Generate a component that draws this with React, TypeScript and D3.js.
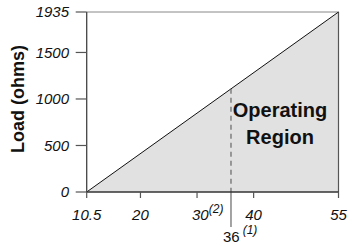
import React from "react";
import * as d3 from "d3";

const xDomain = [10.5, 55];
const yDomain = [0, 1935];
const xTicks = [10.5, 20, 30, 40, 55];
const xTickLabels = ["10.5", "20", "30", "40", "55"];
const yTicks = [0, 500, 1000, 1500, 1935];
const yTickLabels = ["0", "500", "1000", "1500", "1935"];
const boundary = [
  { v: 10.5, load: 0 },
  { v: 55, load: 1935 },
];
const markerV = 36;
const yLabel = "Load (ohms)";
const regionLines = ["Operating", "Region"];

const W = 353;
const H = 246;
const left = 86.7;
const right = 338.5;
const top = 12;
const bottom = 192;
const font = "'Liberation Sans', Arial, Helvetica, sans-serif";

export default function App() {
  const x = d3.scaleLinear().domain(xDomain).range([left, right]);
  const y = d3.scaleLinear().domain(yDomain).range([bottom, top]);

  const area = d3
    .area<{ v: number; load: number }>()
    .x((d) => x(d.v))
    .y0(() => y(0))
    .y1((d) => y(d.load));
  const line = d3
    .line<{ v: number; load: number }>()
    .x((d) => x(d.v))
    .y((d) => y(d.load));

  const loadAt = (v: number) =>
    boundary[0].load +
    ((v - boundary[0].v) / (boundary[1].v - boundary[0].v)) *
      (boundary[1].load - boundary[0].load);

  const mx = x(markerV);

  return (
    <svg
      width={W}
      height={H}
      style={{ position: "absolute", left: 0, top: 0, background: "#fff" }}
      fontFamily={font}
    >
      <path d={area(boundary) || ""} fill="#e1e1e1" stroke="none" />
      <line x1={left} x2={right} y1={y(1935)} y2={y(1935)} stroke="#888" strokeWidth={1} />
      <line x1={right} x2={right} y1={y(1935)} y2={bottom} stroke="#555" strokeWidth={1.2} />
      <path d={line(boundary) || ""} fill="none" stroke="#111" strokeWidth={1} />
      <line
        x1={mx}
        x2={mx}
        y1={y(loadAt(markerV))}
        y2={bottom}
        stroke="#666"
        strokeWidth={1.2}
        strokeDasharray="5,4"
      />
      <line x1={mx} x2={mx} y1={bottom} y2={227} stroke="#666" strokeWidth={1.2} />

      <line x1={left} x2={left} y1={y(1935)} y2={bottom} stroke="#444" strokeWidth={1.3} />
      <line x1={left} x2={right} y1={bottom} y2={bottom} stroke="#333" strokeWidth={1.6} />

      {yTicks.map((t, i) => (
        <g key={"y" + i}>
          <line x1={left - 11} x2={left} y1={y(t)} y2={y(t)} stroke="#555" strokeWidth={1.2} />
          <text
            x={69}
            y={y(t)}
            dy="0.36em"
            textAnchor="end"
            fontSize={15}
            fontStyle="italic"
            fill="#111"
          >
            {yTickLabels[i]}
          </text>
        </g>
      ))}

      {xTicks.map((t, i) => (
        <g key={"x" + i}>
          <line x1={x(t)} x2={x(t)} y1={bottom} y2={bottom + 6} stroke="#555" strokeWidth={1.2} />
          {t === 30 ? (
            <text x={x(t) - 5} y={220} fontSize={15} fontStyle="italic" fill="#111">
              {xTickLabels[i]}
              <tspan fontSize={12} dy={-7}>(2)</tspan>
            </text>
          ) : (
            <text x={x(t)} y={220} textAnchor="middle" fontSize={15} fontStyle="italic" fill="#111">
              {xTickLabels[i]}
            </text>
          )}
        </g>
      ))}

      <text x={mx - 8} y={242} fontSize={15} fill="#111">
        {String(markerV)}
        <tspan fontSize={12} fontStyle="italic" dx={3} dy={-8}>(1)</tspan>
      </text>

      <text
        transform={`translate(24,99) rotate(-90)`}
        textAnchor="middle"
        fontSize={18}
        fontWeight="bold"
        fill="#111"
      >
        {yLabel}
      </text>

      {regionLines.map((s, i) => (
        <text
          key={s}
          x={280}
          y={117 + i * 27}
          textAnchor="middle"
          fontSize={20}
          fontWeight="bold"
          fill="#111"
        >
          {s}
        </text>
      ))}
    </svg>
  );
}
